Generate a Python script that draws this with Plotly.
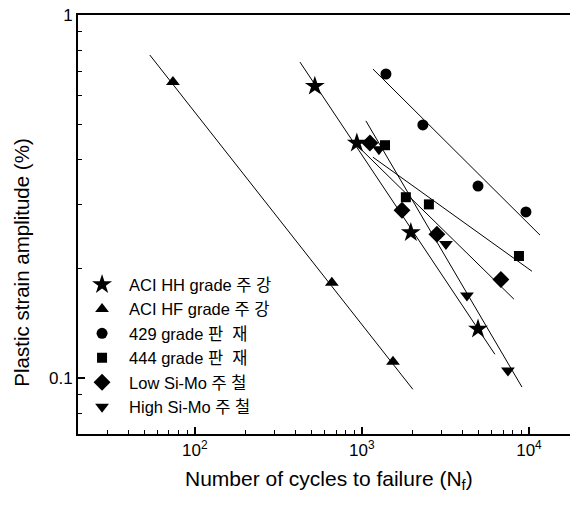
import numpy as np
import plotly.graph_objects as go

# ---- data ----
series_names = ["ACI HH grade 주 강", "ACI HF grade 주 강", "429 grade 판  재",
                "444 grade 판  재", "Low Si-Mo 주 철", "High Si-Mo 주 철"]
series_symbols = ["star", "triangle-up", "circle", "square", "diamond", "triangle-down"]

hh_x = [523, 933, 1963, 4955]
hh_y = [0.637, 0.444, 0.252, 0.1365]
hf_x = [74, 661, 1535]
hf_y = [0.654, 0.183, 0.111]
g429_x = [1393, 2317, 4955, 9590]
g429_y = [0.688, 0.498, 0.338, 0.287]
g444_x = [1375, 1833, 2518, 8710]
g444_y = [0.438, 0.315, 0.301, 0.217]
low_x = [1117, 1738, 2812, 6790]
low_y = [0.444, 0.290, 0.249, 0.187]
high_x = [1265, 3185, 4254, 7480]
high_y = [0.427, 0.234, 0.169, 0.105]

# fitted lines (end points as drawn)
hh_fit_x = [426, 6250];    hh_fit_y = [0.742, 0.1164]
hf_fit_x = [53.8, 2018];   hf_fit_y = [0.776, 0.0932]
g429_fit_x = [1164, 11640]; g429_fit_y = [0.710, 0.2477]
g444_fit_x = [1164, 10420]; g444_fit_y = [0.406, 0.197]
low_fit_x = [933, 8130];   low_fit_y = [0.438, 0.165]
high_fit_x = [1057, 9080]; high_fit_y = [0.511, 0.0945]

x_major = [100, 1000, 10000]
x_major_text = ["10<sup>2</sup>", "10<sup>3</sup>", "10<sup>4</sup>"]
x_minor = [20, 30, 40, 50, 60, 70, 80, 90, 200, 300, 400, 500, 600, 700, 800, 900,
           2000, 3000, 4000, 5000, 6000, 7000, 8000, 9000]
y_major = [0.1, 1]
y_major_text = ["0.1", "1"]
y_minor = [0.08, 0.09, 0.2, 0.3, 0.4, 0.5, 0.6, 0.7, 0.8, 0.9]

points = [(hh_x, hh_y), (hf_x, hf_y), (g429_x, g429_y), (g444_x, g444_y),
          (low_x, low_y), (high_x, high_y)]
fits = [(hh_fit_x, hh_fit_y), (hf_fit_x, hf_fit_y), (g429_fit_x, g429_fit_y),
        (g444_fit_x, g444_fit_y), (low_fit_x, low_fit_y), (high_fit_x, high_fit_y)]
marker_sizes = [15, 12, 11, 10, 13, 12]

FONT = "Liberation Sans, Arial, Noto Sans CJK KR, sans-serif"

fig = go.Figure()
for fx, fy in fits:
    fig.add_trace(go.Scatter(x=fx, y=fy, mode="lines",
                             line=dict(color="black", width=1),
                             showlegend=False, hoverinfo="skip"))
for name, sym, (px, py), ms in zip(series_names, series_symbols, points, marker_sizes):
    fig.add_trace(go.Scatter(x=px, y=py, mode="markers", name=name,
                             marker=dict(symbol=sym, size=ms, color="black",
                                         line=dict(width=0))))

fig.update_layout(
    width=570, height=508,
    margin=dict(l=78, r=0, t=15, b=74),
    paper_bgcolor="white", plot_bgcolor="white",
    font=dict(family=FONT, color="black", size=17),
    showlegend=True,
    legend=dict(x=-0.006, y=0.398, xanchor="left", yanchor="top",
                bgcolor="rgba(0,0,0,0)", borderwidth=0,
                font=dict(size=16.5, family=FONT), itemwidth=44,
                tracegroupgap=0),
    annotations=[
        dict(text="Plastic strain amplitude (%)", xref="paper", yref="paper",
             x=-0.115, y=0.41, xanchor="center", yanchor="middle", textangle=-90,
             showarrow=False, font=dict(size=20.5, family=FONT)),
        dict(text="Number of cycles to failure (N<sub>f</sub>)", xref="paper", yref="paper",
             x=0.51, y=-0.11, xanchor="center", yanchor="middle",
             showarrow=False, font=dict(size=21, family=FONT)),
    ],
)
fig.update_xaxes(type="log", range=[np.log10(20), 4.2455],
                 showline=True, linecolor="black", linewidth=2, mirror=True,
                 showgrid=False, zeroline=False,
                 tickmode="array", tickvals=x_major, ticktext=x_major_text,
                 ticks="inside", ticklen=7, tickwidth=1.5, tickcolor="black",
                 tickfont=dict(size=17, family=FONT),
                 minor=dict(tickmode="array", tickvals=x_minor, ticks="inside",
                            ticklen=4, tickwidth=1, tickcolor="black", showgrid=False))
fig.update_yaxes(type="log", range=[np.log10(0.0702), 0],
                 showline=True, linecolor="black", linewidth=2, mirror=False,
                 showgrid=False, zeroline=False,
                 tickmode="array", tickvals=y_major, ticktext=y_major_text,
                 ticks="inside", ticklen=7, tickwidth=1.5, tickcolor="black",
                 tickfont=dict(size=17, family=FONT),
                 minor=dict(tickmode="array", tickvals=y_minor, ticks="inside",
                            ticklen=4, tickwidth=1, tickcolor="black", showgrid=False))

fig.write_html("out.html")
